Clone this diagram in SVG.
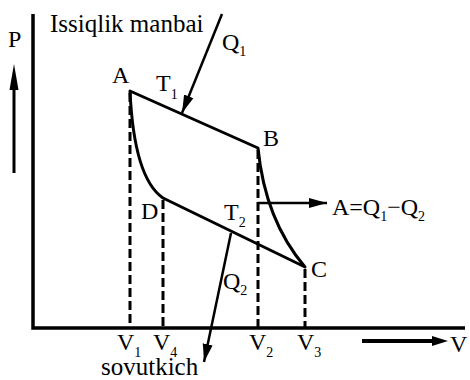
<svg xmlns="http://www.w3.org/2000/svg" width="470" height="380" viewBox="0 0 470 380">
<style>
.ln{fill:none;stroke:#000;stroke-width:3;stroke-linecap:round;stroke-linejoin:round}
.ax{fill:none;stroke:#000;stroke-width:3.5}
.ds{fill:none;stroke:#000;stroke-width:3;stroke-dasharray:9 4}
.ar{fill:none;stroke:#000;stroke-width:2.5}
.t{font-family:"Liberation Serif",serif;font-size:24px;fill:#000}
.sb{font-size:14px}
</style>
<defs>
<marker id="ah" markerUnits="userSpaceOnUse" markerWidth="20" markerHeight="12" refX="18" refY="6" orient="auto">
<path d="M0,1 L18,6 L0,11 Z" fill="#000"/>
</marker>
</defs>
<rect width="470" height="380" fill="#fff"/>
<g id="axes">
<path class="ax" d="M33,14 V328 H465"/>
<path d="M14,173 V80" stroke="#000" stroke-width="3" fill="none"/>
<path d="M14,64 L9.5,90 L18.5,90 Z" fill="#000"/>
<path d="M362,341 H436" stroke="#000" stroke-width="4" fill="none"/>
<path d="M432,336 L448,341 L432,346 Z" fill="#000"/>
</g>
<g id="dashes">
<path class="ds" d="M130,93 V327"/>
<path class="ds" d="M163,200 V327"/>
<path class="ds" d="M258,150 V327"/>
<path class="ds" d="M305,269 V327"/>
</g>
<g id="cycle">
<path class="ln" d="M130,91 L258,148 Q265,220 305,267 L163,198 Q134,178 130,91 Z"/>
</g>
<g id="connectors">
<path class="ar" d="M222,14 L182,113" marker-end="url(#ah)"/>
<path class="ar" d="M258,203 H327" marker-end="url(#ah)"/>
<path class="ar" d="M231,233 L204,362" marker-end="url(#ah)"/>
</g>
<g class="t">
<g id="node-A"><text x="112" y="83">A</text></g>
<g id="node-B"><text x="263" y="146">B</text></g>
<g id="node-C"><text x="311" y="277">C</text></g>
<g id="node-D"><text x="141" y="219">D</text></g>
<g id="labels">
<text x="8" y="47">P</text>
<text x="50" y="32" style="font-size:25px">Issiqlik manbai</text>
<text x="222" y="50">Q<tspan class="sb" dy="6">1</tspan></text>
<text x="156" y="91">T<tspan class="sb" dy="8">1</tspan></text>
<text x="224" y="220">T<tspan class="sb" dy="7">2</tspan></text>
<text x="223" y="289">Q<tspan class="sb" dy="6">2</tspan></text>
<text x="332" y="215">A=Q<tspan class="sb" dy="6">1</tspan><tspan dy="-6">−Q</tspan><tspan class="sb" dy="6">2</tspan></text>
<text x="117" y="350">V<tspan class="sb" dy="7">1</tspan></text>
<text x="153" y="350">V<tspan class="sb" dy="7">4</tspan></text>
<text x="249" y="350">V<tspan class="sb" dy="7">2</tspan></text>
<text x="297" y="350">V<tspan class="sb" dy="7">3</tspan></text>
<text x="450" y="352">V</text>
<text x="101" y="375" style="font-size:25px">sovutkich</text>
</g>
</g>
</svg>
